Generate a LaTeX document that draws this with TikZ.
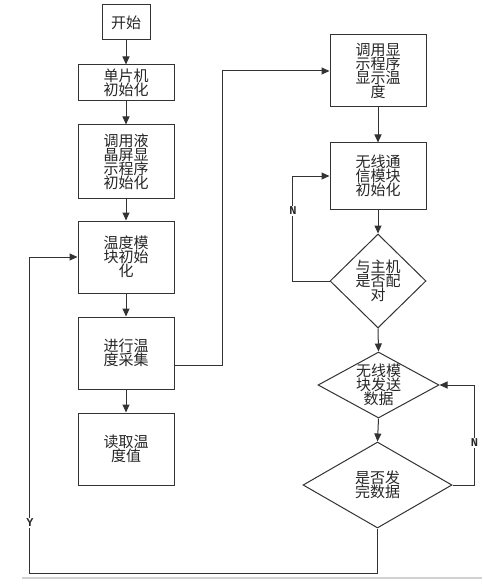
\documentclass[tikz,border=0pt]{standalone}
\usepackage{fontspec}
\newfontfamily\cjk{Noto Sans CJK SC}
\newfontfamily\labfont{Liberation Mono}
\usetikzlibrary{arrows.meta,shapes.geometric,calc}
\begin{document}
\begin{tikzpicture}[x=1pt,y=-1pt,
  line/.style={draw=black!80, line width=1pt},
  arr/.style={line, -{Triangle[length=8pt,width=7pt]}},
  box/.style={line, rectangle, minimum width=96pt, inner sep=0pt},
  dia/.style={line, diamond, inner sep=0pt},
  txt/.style={font=\cjk\fontsize{15}{14}\selectfont, align=center, inner sep=0pt, text=black!85},
  lab/.style={font=\labfont\bfseries\fontsize{12}{12}\selectfont, fill=white, inner sep=1pt, text=black!85}
]
\useasboundingbox (0,0) rectangle (482,588);
\fill[white] (0,0) rectangle (482,588);

% left column
\node[box, minimum width=48pt, minimum height=35pt, txt] (start) at (126,22.5) {开始};
\node[box, minimum height=36pt, txt] (n1) at (126,83) {单片机\\初始化};
\node[box, minimum height=73pt, txt] (n2) at (126,161.5) {调用液\\晶屏显\\示程序\\初始化};
\node[box, minimum height=72pt, txt] (n3) at (126,257) {温度模\\块初始\\化};
\node[box, minimum height=72pt, txt] (n4) at (126,353) {进行温\\度采集};
\node[box, minimum height=72pt, txt] (n5) at (126,449) {读取温\\度值};

% right column
\node[box, minimum height=72pt, txt] (r1) at (378,71) {调用显\\示程序\\显示温\\度};
\node[box, minimum height=66pt, txt] (r2) at (378,176) {无线通\\信模块\\初始化};
\node[dia, minimum width=96pt, minimum height=94pt] (d1) at (378,281) {};
\node[txt] (t1) at (d1.center) {与主机\\是否配\\对};
\node[dia, minimum width=121pt, minimum height=66pt] (d2) at (378.5,385) {};
\node[txt] (t2) at (d2.center) {无线模\\块发送\\数据};
\node[dia, minimum width=149pt, minimum height=86pt] (d3) at (377.5,485) {};
\node[txt] (t3) at (d3.center) {是否发\\完数据};

% connectors
\draw[arr] (start) -- (n1);
\draw[arr] (n1) -- (n2);
\draw[arr] (n2) -- (n3);
\draw[arr] (n3) -- (n4);
\draw[arr] (n4) -- (n5);
\draw[arr] ($(n4.east)+(0,12)$) -- ++(48,0) |- (r1.west);
\draw[arr] (r1) -- (r2);
\draw[arr] (r2) -- (d1.north);
\draw[arr] (d1.west) -- ++(-37,0) |- (r2.west);
\draw[arr] (d1.south) -- (d2.north);
\draw[arr] (d2.south) -- (d3.north);
\draw[arr] (d3.east) -- ++(22,0) |- (d2.east);
\draw[arr] (d3.south) -- ++(0,45) -| ($(n3.west)+(-48,0)$) -- (n3.west);

% labels
\node[lab] (lN1) at (293,211) {N};
\node[lab] (lN2) at (474.5,443) {N};
\node[lab] (lY) at (30,523) {Y};

% bottom gray rule
\draw[black!18, line width=2pt] (22,577.5) -- (482,577.5);
\end{tikzpicture}
\end{document}
